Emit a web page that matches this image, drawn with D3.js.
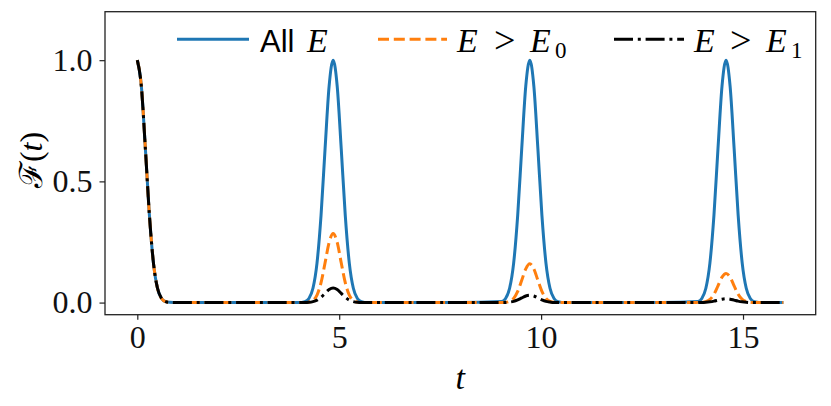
<!DOCTYPE html>
<html>
<head>
<meta charset="utf-8">
<script src="https://cdn.jsdelivr.net/npm/d3@7"></script>
<style>
  html, body { margin: 0; padding: 0; background: #fff; }
  svg { display: block; }
</style>
</head>
<body>
<svg id="chart" width="831" height="406"></svg>
<script>
// ---- data ----
const tVals = [0, 0.1, 0.2, 0.3, 0.4, 0.5, 0.6, 0.7, 0.8, 1.0, 2.0, 3.0, 4.0,
  4.15, 4.25, 4.35, 4.45, 4.55, 4.65, 4.75, 4.85, 4.95, 5.05, 5.15, 5.25, 5.35, 5.45, 5.55, 5.7, 6.0, 7.0, 8.0,
  9.02, 9.12, 9.22, 9.32, 9.42, 9.52, 9.62, 9.72, 9.82, 9.92, 10.02, 10.12, 10.22, 10.32, 10.42, 10.6, 11, 12, 13,
  13.88, 13.98, 14.08, 14.18, 14.28, 14.38, 14.48, 14.58, 14.68, 14.78, 14.88, 14.98, 15.08, 15.18, 15.28, 15.5, 16];

const allE = [1, 0.893, 0.635, 0.360, 0.163, 0.059, 0.017, 0.004, 0.001, 0, 0, 0, 0,
  0.004, 0.017, 0.059, 0.163, 0.360, 0.635, 0.893, 1, 0.893, 0.635, 0.360, 0.163, 0.059, 0.017, 0.004, 0, 0, 0, 0,
  0.004, 0.017, 0.059, 0.163, 0.360, 0.635, 0.893, 1, 0.893, 0.635, 0.360, 0.163, 0.059, 0.017, 0.004, 0, 0, 0, 0,
  0.004, 0.017, 0.059, 0.163, 0.360, 0.635, 0.893, 1, 0.893, 0.635, 0.360, 0.163, 0.059, 0.017, 0.004, 0, 0];

const gtE0 = [1, 0.893, 0.635, 0.360, 0.163, 0.059, 0.017, 0.004, 0.001, 0, 0, 0, 0,
  0, 0.002, 0.009, 0.031, 0.082, 0.164, 0.248, 0.285, 0.248, 0.164, 0.082, 0.031, 0.009, 0.002, 0, 0, 0, 0, 0,
  0, 0.001, 0.005, 0.017, 0.046, 0.092, 0.139, 0.160, 0.139, 0.092, 0.046, 0.017, 0.005, 0.001, 0, 0, 0, 0, 0,
  0, 0.001, 0.004, 0.013, 0.034, 0.069, 0.105, 0.120, 0.105, 0.069, 0.034, 0.013, 0.004, 0.001, 0, 0, 0];

const gtE1 = [1, 0.893, 0.635, 0.360, 0.163, 0.059, 0.017, 0.004, 0.001, 0, 0, 0, 0,
  0, 0.001, 0.004, 0.010, 0.022, 0.038, 0.054, 0.060, 0.054, 0.038, 0.022, 0.010, 0.004, 0.001, 0, 0, 0, 0, 0,
  0, 0, 0.002, 0.005, 0.011, 0.019, 0.027, 0.030, 0.027, 0.019, 0.011, 0.005, 0.002, 0, 0, 0, 0, 0, 0,
  0, 0, 0.001, 0.003, 0.006, 0.010, 0.014, 0.016, 0.014, 0.010, 0.006, 0.003, 0.001, 0, 0, 0, 0];

const xTicks = [0, 5, 10, 15];
const xTickLabels = ["0", "5", "10", "15"];
const yTicks = [0, 0.5, 1.0];
const yTickLabels = ["0.0", "0.5", "1.0"];

// ---- layout ----
const svg = d3.select("#chart");
const plot = { left: 105, right: 815.7, top: 11.7, bottom: 314.7 };
const serif = "'Liberation Serif', 'DejaVu Serif', serif";

const x = d3.scaleLinear().domain([-0.8, 16.8]).range([plot.left, plot.right]);
const y = d3.scaleLinear().domain([-0.05, 1.2]).range([plot.bottom, plot.top]);

const series = [
  { values: allE, color: "#1f77b4", dash: null },
  { values: gtE0, color: "#ff7f0e", dash: "11,4.8" },
  { values: gtE1, color: "#000000", dash: "19,4.8,3,4.8" }
];

const line = d3.line()
  .x(d => x(d[0]))
  .y(d => y(d[1]))
  .curve(d3.curveMonotoneX);

const clipG = svg.append("g");
series.forEach(s => {
  const pts = tVals.map((t, i) => [t, s.values[i]]);
  clipG.append("path")
    .attr("d", line(pts))
    .attr("fill", "none")
    .attr("stroke", s.color)
    .attr("stroke-width", 3)
    .attr("stroke-dasharray", s.dash)
    .attr("stroke-linejoin", "round");
});

// axes
const xAxis = d3.axisBottom(x).tickValues(xTicks).tickFormat((d, i) => xTickLabels[i]).tickSize(5).tickPadding(6);
const yAxis = d3.axisLeft(y).tickValues(yTicks).tickFormat((d, i) => yTickLabels[i]).tickSize(5.5).tickPadding(7);

const gx = svg.append("g").attr("transform", `translate(0,${plot.bottom})`).call(xAxis);
const gy = svg.append("g").attr("transform", `translate(${plot.left},0)`).call(yAxis);
[gx, gy].forEach(g => {
  g.select(".domain").remove();
  g.selectAll(".tick line").attr("stroke", "#222").attr("stroke-width", 1.2);
  g.selectAll(".tick text").attr("fill", "#111").style("font-family", serif).style("font-size", "32px");
});

// frame
svg.append("rect")
  .attr("x", plot.left).attr("y", plot.top)
  .attr("width", plot.right - plot.left).attr("height", plot.bottom - plot.top)
  .attr("fill", "none").attr("stroke", "#222").attr("stroke-width", 1.3);

// axis labels
svg.append("text")
  .attr("x", (plot.left + plot.right) / 2).attr("y", 389)
  .attr("text-anchor", "middle")
  .style("font-family", serif).style("font-size", "34px").style("font-style", "italic")
  .text("t");

const yl = svg.append("text")
  .attr("transform", "translate(42,160) rotate(-90)")
  .attr("text-anchor", "middle")
  .style("font-family", serif).style("font-size", "32px");
yl.append("tspan").style("font-family", "'DejaVu Serif', serif").text("ℱ");
yl.append("tspan").text("(");
yl.append("tspan").style("font-style", "italic").text("t");
yl.append("tspan").text(")");

// legend
const legY = 39.3, legBase = 51.5;
const legend = [
  { color: "#1f77b4", dash: null, x1: 177, x2: 249 },
  { color: "#ff7f0e", dash: "11,4.8", x1: 378, x2: 447 },
  { color: "#000000", dash: "19,4.8,3,4.8", x1: 614, x2: 684 }
];
legend.forEach(l => {
  svg.append("line")
    .attr("x1", l.x1).attr("x2", l.x2).attr("y1", legY).attr("y2", legY)
    .attr("stroke", l.color).attr("stroke-width", 3).attr("stroke-dasharray", l.dash);
});

function txt(xp, str, opts = {}) {
  return svg.append("text")
    .attr("x", xp).attr("y", opts.y || legBase)
    .style("font-family", opts.family || serif)
    .style("font-size", (opts.size || 34) + "px")
    .style("font-style", opts.italic ? "italic" : "normal")
    .text(str);
}
txt(260, "All", { family: "'Liberation Sans', Arial, sans-serif", size: 31 });
txt(307, "E", { italic: true });
txt(457, "E", { italic: true });
txt(494, ">", { size: 38, y: legBase + 1 });
txt(530, "E", { italic: true });
txt(555, "0", { size: 23, y: legBase + 6 });
txt(694, "E", { italic: true });
txt(730, ">", { size: 38, y: legBase + 1 });
txt(766, "E", { italic: true });
txt(791, "1", { size: 23, y: legBase + 6 });
</script>
</body>
</html>
